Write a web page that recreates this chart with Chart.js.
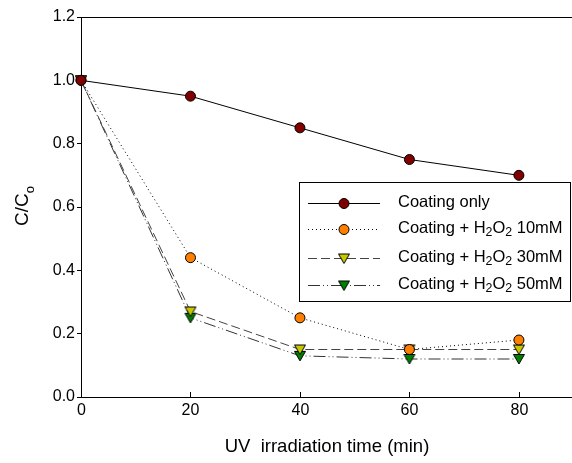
<!DOCTYPE html>
<html>
<head>
<meta charset="utf-8">
<script src="https://cdn.jsdelivr.net/npm/chart.js@4"></script>
<style>
  html, body { margin: 0; padding: 0; background: #fff; }
  #wrap { width: 572px; height: 463px; }
</style>
</head>
<body>
<div id="wrap"><canvas id="c" width="572" height="463"></canvas></div>
<script>
const times = [0, 20, 40, 60, 80];
const coatingOnly = [1.0, 0.95, 0.85, 0.75, 0.70];
const h2o2_10 = [1.0, 0.44, 0.25, 0.15, 0.18];
const h2o2_30 = [1.0, 0.27, 0.15, 0.15, 0.15];
const h2o2_50 = [1.0, 0.25, 0.13, 0.12, 0.12];
const xTicks = [0, 20, 40, 60, 80];
const yTicks = [0, 0.2, 0.4, 0.6, 0.8, 1.0, 1.2];

const FONT = "Liberation Sans, Arial, sans-serif";

const series = [
  { label: ["Coating only"], data: coatingOnly, line: "#000", dash: [], fill: "#800000", shape: "circle" },
  { label: ["Coating + H", "2", "O", "2", " 10mM"], data: h2o2_10, line: "#000", dash: [1, 3], fill: "#ff8000", shape: "circle" },
  { label: ["Coating + H", "2", "O", "2", " 30mM"], data: h2o2_30, line: "#444", dash: [9, 4], fill: "#c8c800", shape: "triangle" },
  { label: ["Coating + H", "2", "O", "2", " 50mM"], data: h2o2_50, line: "#333", dash: [12, 3, 1, 3, 1, 3], fill: "#008000", shape: "triangle" },
];

// triangle pointing down, drawn as a canvas point style
function downTriangle(color) {
  const c = document.createElement("canvas");
  c.width = 14; c.height = 14;
  const g = c.getContext("2d");
  g.beginPath();
  g.moveTo(1.5, 2.5);
  g.lineTo(12.5, 2.5);
  g.lineTo(7, 12);
  g.closePath();
  g.fillStyle = color;
  g.fill();
  g.strokeStyle = "#000";
  g.lineWidth = 1;
  g.stroke();
  return c;
}

const datasets = series.map((s) => ({
  label: s.label.join(""),
  data: times.map((t, i) => ({ x: t, y: s.data[i] })),
  borderColor: s.line,
  borderWidth: 1,
  borderDash: s.dash,
  backgroundColor: s.fill,
  pointBackgroundColor: s.fill,
  pointBorderColor: "#000",
  pointBorderWidth: 1,
  pointRadius: 5,
  pointStyle: s.shape === "circle" ? "circle" : downTriangle(s.fill),
  tension: 0,
  clip: false,
}));

// draw text with subscripts, parts alternate normal/sub
function drawRich(ctx, parts, x, y, size, subScale) {
  let cx = x;
  parts.forEach((p, i) => {
    const sub = i % 2 === 1;
    ctx.font = (sub ? size * subScale : size) + "px " + FONT;
    ctx.fillText(p, cx, sub ? y + size * 0.3 : y);
    cx += ctx.measureText(p).width;
  });
  return cx;
}

const decorations = {
  id: "decorations",
  afterDraw(chart) {
    const { ctx, chartArea, scales } = chart;
    ctx.save();
    // top frame line
    ctx.strokeStyle = "#000";
    ctx.lineWidth = 1;
    ctx.beginPath();
    ctx.moveTo(chartArea.left, chartArea.top + 0.5);
    ctx.lineTo(chartArea.right, chartArea.top + 0.5);
    ctx.stroke();
    // inside x ticks and their labels
    ctx.fillStyle = "#000";
    ctx.font = "16px " + FONT;
    ctx.textAlign = "center";
    ctx.textBaseline = "top";
    xTicks.forEach((v) => {
      const px = Math.round(scales.x.getPixelForValue(v)) + 0.5;
      ctx.beginPath();
      ctx.moveTo(px, chartArea.bottom);
      ctx.lineTo(px, chartArea.bottom - 5);
      ctx.stroke();
      ctx.fillText(String(v), px, chartArea.bottom + 6);
    });

    // axis titles
    ctx.textBaseline = "middle";
    ctx.font = "18.5px " + FONT;
    ctx.fillText("UV  irradiation time (min)", 327, 447);

    ctx.save();
    ctx.translate(28, 206);
    ctx.rotate(-Math.PI / 2);
    ctx.textAlign = "left";
    ctx.textBaseline = "alphabetic";
    ctx.font = "19px " + FONT;
    const w1 = ctx.measureText("C/C").width;
    ctx.font = "13px " + FONT;
    const w2 = ctx.measureText("o").width;
    drawRich(ctx, ["C/C", "o"], -(w1 + w2) / 2, 0, 19, 13 / 19);
    ctx.restore();

    // legend
    const lx = 299, ly = 182, lw = 272, lh = 120;
    ctx.fillStyle = "#fff";
    ctx.fillRect(lx, ly, lw, lh);
    ctx.strokeStyle = "#000";
    ctx.strokeRect(lx + 0.5, ly + 0.5, lw - 1, lh - 1);
    const rows = [203, 229, 258, 285];
    series.forEach((s, i) => {
      const y = rows[i] + 0.5;
      ctx.strokeStyle = s.line;
      ctx.setLineDash(s.dash);
      ctx.beginPath();
      ctx.moveTo(308, y);
      ctx.lineTo(380, y);
      ctx.stroke();
      ctx.setLineDash([]);
      const ds = chart.data.datasets[i];
      if (s.shape === "circle") {
        ctx.beginPath();
        ctx.arc(344, y, 5, 0, Math.PI * 2);
        ctx.fillStyle = s.fill;
        ctx.fill();
        ctx.strokeStyle = "#000";
        ctx.stroke();
      } else {
        ctx.drawImage(ds.pointStyle, 337, y - 7);
      }
      ctx.fillStyle = "#000";
      ctx.textAlign = "left";
      ctx.textBaseline = "middle";
      drawRich(ctx, s.label, 398, rows[i] - 1, 16.5, 0.75);
    });
    ctx.restore();
  },
};

new Chart(document.getElementById("c"), {
  type: "line",
  data: { datasets },
  options: {
    responsive: false,
    animation: false,
    layout: { autoPadding: false, padding: { top: 17, right: 0, left: 0, bottom: 0 } },
    plugins: { legend: { display: false }, tooltip: { enabled: false } },
    scales: {
      x: {
        type: "linear",
        min: 0,
        max: 89.7,
        afterBuildTicks: (scale) => { scale.ticks = xTicks.map((v) => ({ value: v })); },
        afterFit: (scale) => { scale.height = 66; },
        grid: { display: false },
        border: { color: "#000", width: 1 },
        ticks: { display: false },
      },
      y: {
        min: 0,
        max: 1.2,
        afterBuildTicks: (scale) => { scale.ticks = yTicks.map((v) => ({ value: v })); },
        afterFit: (scale) => { scale.width = 81; },
        grid: { drawOnChartArea: false, color: "#000", tickLength: 4 },
        border: { color: "#000", width: 1 },
        ticks: { color: "#000", font: { family: FONT, size: 16 }, padding: 2, callback: (v) => v.toFixed(1) },
      },
    },
  },
  plugins: [decorations],
});
</script>
</body>
</html>
